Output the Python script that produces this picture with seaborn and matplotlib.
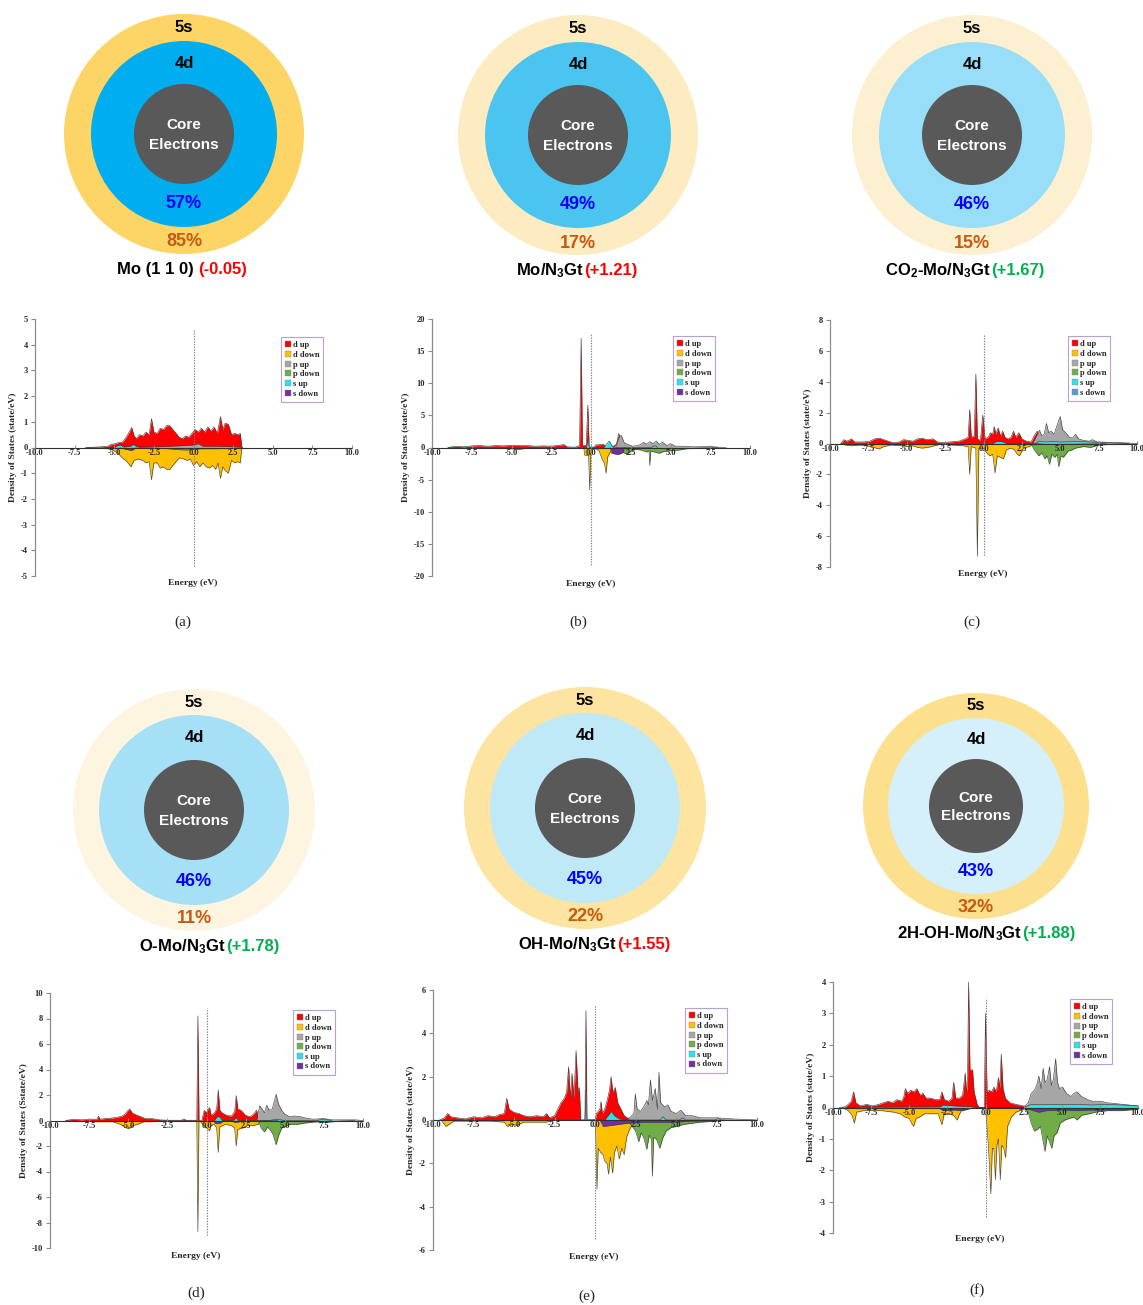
import numpy as np
import matplotlib
matplotlib.use("Agg")
import matplotlib.pyplot as plt
import seaborn as sns
from matplotlib.patches import Circle
from matplotlib.offsetbox import TextArea, HPacker, AnnotationBbox
from matplotlib.lines import Line2D

sns.set_theme(style="white")
plt.rcParams["font.family"] = ["Liberation Sans", "DejaVu Sans"]
plt.rcParams["mathtext.fontset"] = "custom"
plt.rcParams["mathtext.rm"] = "Liberation Sans:bold"
plt.rcParams["mathtext.bf"] = "Liberation Sans:bold"
plt.rcParams["mathtext.it"] = "Liberation Sans:bold"

# ---------------- circle diagram data ----------------
PANEL_TAGS = ["(a)", "(b)", "(c)", "(d)", "(e)", "(f)"]
NAMES = ["Mo (1 1 0)", "Mo/N$_3$Gt", "CO$_2$-Mo/N$_3$Gt", "O-Mo/N$_3$Gt",
         "OH-Mo/N$_3$Gt", "2H-OH-Mo/N$_3$Gt"]
CHARGES = ["(-0.05)", "(+1.21)", "(+1.67)", "(+1.78)", "(+1.55)", "(+1.88)"]
CHARGE_COLORS = ["#FF0000", "#FF0000", "#00B050", "#00B050", "#FF0000", "#00B050"]
PCT_4D = [57, 49, 46, 46, 45, 43]
PCT_5S = [85, 17, 15, 11, 22, 32]
COL_5S = ["#FDD466", "#FDEBC1", "#FDF0D0", "#FEF5E0", "#FDE4A0", "#FDE08E"]
COL_4D = ["#00AEEF", "#4BC5EF", "#99DEF8", "#A6E0F7", "#C0E9F8", "#D5F0FA"]

# ---------------- DOS data (energy eV, DOS state/eV) ----------------
A_D_UP = [(-6.8,0),(-6.0,0.02),(-5.4,0.05),(-5.2,0.12),(-4.9,0.15),(-4.7,0.2),(-4.5,0.2),(-4.3,0.35),(-4.1,0.55),(-3.9,0.78),(-3.75,0.45),(-3.6,0.35),(-3.4,0.5),(-3.2,0.45),(-3.0,0.6),(-2.8,0.5),(-2.65,1.12),(-2.5,0.6),(-2.3,0.55),(-2.1,0.75),(-1.9,0.7),(-1.7,0.85),(-1.5,0.85),(-1.3,0.7),(-1.1,0.55),(-0.9,0.4),(-0.7,0.35),(-0.5,0.45),(-0.3,0.4),(-0.1,0.55),(0.1,0.7),(0.3,0.6),(0.5,0.75),(0.7,0.6),(0.9,0.8),(1.1,0.65),(1.3,0.8),(1.5,0.55),(1.7,1.2),(1.85,0.7),(2.0,0.95),(2.2,0.9),(2.4,0.5),(2.6,0.55),(2.8,0.5),(2.95,0.55),(3.05,0.0)]
A_D_DOWN = [(-6.8,0),(-6.0,-0.02),(-5.4,-0.05),(-5.1,-0.1),(-4.8,-0.2),(-4.5,-0.4),(-4.2,-0.55),(-3.95,-0.75),(-3.75,-0.5),(-3.5,-0.45),(-3.2,-0.5),(-3.0,-0.6),(-2.8,-0.55),(-2.65,-1.25),(-2.5,-0.6),(-2.3,-0.6),(-2.1,-0.8),(-1.9,-0.75),(-1.7,-0.85),(-1.5,-0.85),(-1.3,-0.7),(-1.1,-0.55),(-0.9,-0.4),(-0.6,-0.45),(-0.4,-0.5),(-0.2,-0.45),(0.0,-0.7),(0.2,-0.55),(0.4,-0.75),(0.6,-0.6),(0.8,-0.75),(1.0,-0.8),(1.2,-0.7),(1.4,-0.85),(1.55,-0.6),(1.7,-1.2),(1.85,-0.75),(2.0,-0.9),(2.2,-1.0),(2.4,-0.5),(2.6,-0.6),(2.8,-0.55),(2.95,-0.6),(3.05,0.0)]
A_P_UP = [(-5.5,0),(-3.0,0.02),(-1.5,0.05),(-0.5,0.08),(0.0,0.1),(0.3,0.15),(0.6,0.05),(1.5,0.05),(3.0,0.02),(3.1,0)]
A_P_DOWN = [(-5.5,0),(-2.0,-0.03),(-1.0,-0.08),(-0.5,-0.1),(0.0,-0.08),(0.5,-0.05),(1.5,-0.05),(3.0,-0.02),(3.1,0)]
A_S_UP = [(-5.0,0),(-4.8,0.08),(-4.6,0.1),(-4.4,0.02),(-4.0,0.05),(-3.8,0.12),(-3.6,0.05),(-3.4,0)]
A_S_DOWN = [(-5.0,0),(-4.8,-0.05),(-4.6,-0.02),(-3.9,-0.12),(-3.6,0)]

B_D_UP = [(-9.0,0),(-8.5,0.2),(-8.0,0.1),(-7.5,0.25),(-7.0,0.3),(-6.5,0.2),(-6.0,0.3),(-5.5,0.25),(-5.0,0.35),(-4.5,0.3),(-4.0,0.3),(-3.5,0.2),(-3.0,0.25),(-2.5,0.2),(-2.0,0.35),(-1.7,0.45),(-1.5,0.1),(-1.0,0.05),(-0.72,0.3),(-0.62,17.0),(-0.54,0.4),(-0.3,0.3),(-0.2,6.6),(-0.12,0.2),(0.0,0.0),(0.2,0.1),(0.3,0.4),(0.6,0.45),(0.8,0.5),(0.9,0.1),(1.4,0.2),(1.6,0.5),(1.75,2.2),(1.85,1.0),(2.0,0.5),(2.3,0.2),(2.6,0.0)]
B_D_DOWN = [(-9.0,0),(-8.5,-0.1),(-7.0,-0.1),(-6.0,-0.15),(-5.0,-0.2),(-4.5,-0.3),(-4.0,-0.1),(-2.5,-0.1),(-1.5,-0.1),(-0.45,-0.1),(-0.4,-1.2),(-0.15,-1.2),(-0.08,-6.6),(0.0,-0.3),(0.3,-0.2),(0.5,-0.5),(0.7,-1.8),(0.85,-2.5),(0.95,-4.0),(1.05,-1.5),(1.3,-0.3),(1.6,0.0)]
B_P_UP = [(1.3,0),(1.6,0.4),(1.75,1.6),(1.9,1.9),(2.1,0.7),(2.3,0.5),(2.6,0.2),(3.0,0.3),(3.3,0.8),(3.5,0.5),(3.7,0.9),(3.9,0.6),(4.1,1.0),(4.3,0.5),(4.5,0.8),(4.8,0.3),(5.0,0.6),(5.3,0.2),(5.8,0.2),(6.5,0.1),(7.5,0.15),(8.0,0.05),(8.5,0)]
B_P_DOWN = [(1.6,0),(1.9,-0.5),(2.1,-0.9),(2.3,-1.0),(2.5,-0.6),(2.8,-0.3),(3.2,-0.4),(3.5,-0.7),(3.65,-0.5),(3.7,-2.8),(3.75,-0.6),(4.0,-0.7),(4.3,-0.9),(4.6,-0.6),(5.0,-0.5),(5.5,-0.4),(6.0,-0.2),(6.5,-0.1),(7.5,-0.05),(8.0,0)]
B_S_UP = [(-0.3,0),(-0.2,1.2),(-0.1,0),(0.8,0),(1.0,0.6),(1.15,1.0),(1.3,0.4),(1.4,0),(3.8,0),(4.0,0.3),(4.2,0)]
B_S_DOWN = [(1.2,0),(1.3,-0.9),(1.7,-1.1),(2.0,-0.8),(2.1,0)]

C_D_UP = [(-9.3,0),(-9.1,0.25),(-8.9,0.15),(-8.6,0.3),(-8.4,0.1),(-7.8,0.1),(-7.4,0.15),(-7.1,0.3),(-6.8,0.35),(-6.5,0.25),(-6.2,0.15),(-5.9,0.05),(-5.5,0.1),(-5.2,0.25),(-4.9,0.2),(-4.6,0.15),(-4.3,0.3),(-4.0,0.35),(-3.7,0.25),(-3.3,0.3),(-3.0,0.1),(-2.7,0.05),(-2.2,0.1),(-1.6,0.15),(-1.2,0.3),(-1.0,0.4),(-0.9,2.2),(-0.8,0.4),(-0.6,0.5),(-0.5,4.5),(-0.4,0.3),(-0.2,0.2),(-0.05,1.85),(0.1,0.3),(0.3,0.4),(0.45,0.7),(0.6,0.6),(0.7,1.1),(0.8,0.6),(0.95,1.0),(1.1,0.5),(1.25,0.8),(1.4,0.4),(1.6,0.3),(1.8,0.4),(1.95,0.8),(2.1,0.4),(2.3,0.7),(2.5,0.3),(2.8,0.15),(3.1,0.1),(3.3,0.5),(3.5,0.8),(3.7,0.3),(4.0,0.0)]
C_D_DOWN = [(-9.3,0),(-9.0,-0.1),(-8.6,-0.15),(-8.0,-0.1),(-7.3,-0.2),(-7.0,-0.3),(-6.8,-0.35),(-6.5,-0.2),(-6.0,-0.1),(-5.3,-0.15),(-5.0,-0.2),(-4.6,-0.15),(-4.3,-0.25),(-4.0,-0.3),(-3.6,-0.25),(-3.2,-0.15),(-2.8,-0.05),(-2.0,-0.1),(-1.3,-0.15),(-1.0,-0.2),(-0.9,-2.0),(-0.8,-0.2),(-0.5,-0.3),(-0.4,-7.3),(-0.3,-0.3),(0.0,-0.3),(0.2,-0.6),(0.4,-0.8),(0.6,-0.7),(0.75,-1.9),(0.9,-0.8),(1.1,-0.9),(1.3,-1.0),(1.5,-0.4),(1.8,-0.3),(2.0,-0.4),(2.2,-0.7),(2.35,-0.8),(2.6,-0.3),(3.0,-0.2),(3.3,0.0)]
C_P_UP = [(3.2,0),(3.5,0.6),(3.65,0.85),(3.8,0.5),(3.95,0.6),(4.1,1.3),(4.25,0.7),(4.4,0.8),(4.6,0.6),(4.8,1.2),(5.0,1.75),(5.15,0.9),(5.35,0.7),(5.6,0.4),(5.8,0.35),(6.0,0.6),(6.2,0.3),(6.5,0.2),(6.9,0.15),(7.1,0.25),(7.4,0.1),(8.0,0.08),(9.0,0.05),(10.0,0)]
C_P_DOWN = [(3.1,0),(3.3,-0.4),(3.6,-0.8),(3.8,-0.6),(4.0,-1.0),(4.15,-0.8),(4.3,-1.35),(4.45,-0.7),(4.65,-0.9),(4.8,-0.7),(4.9,-1.5),(5.05,-0.8),(5.2,-0.9),(5.5,-0.5),(5.8,-0.4),(6.0,-0.3),(6.5,-0.2),(7.0,-0.25),(7.5,-0.1),(8.5,-0.05),(9.5,0)]
C_S_UP = [(0.6,0),(0.8,0.12),(1.0,0.15),(1.3,0.1),(1.5,0),(3.4,0),(3.6,0.15),(4.0,0.1),(4.5,0.12),(5.0,0.1),(6.0,0.12),(7.0,0.1),(8.0,0.05),(9.5,0)]
C_S_DOWN = [(3.4,0),(4.0,-0.05),(5.0,-0.05),(7.0,-0.03),(8.0,0)]

D_D_UP = [(-9.0,0),(-8.5,0.1),(-8.0,0.05),(-7.5,0.1),(-7.0,0.1),(-6.9,0.35),(-6.8,0.1),(-6.5,0.15),(-6.0,0.2),(-5.7,0.25),(-5.4,0.35),(-5.2,0.5),(-5.05,0.75),(-4.9,0.9),(-4.75,0.6),(-4.5,0.45),(-4.2,0.3),(-3.9,0.15),(-3.5,0.15),(-3.2,0.1),(-3.0,0.05),(-2.5,0.02),(-1.6,0.02),(-1.45,0.12),(-1.3,0.02),(-0.62,0.02),(-0.55,8.2),(-0.48,0.02),(-0.3,0.0),(-0.15,0.8),(0.0,0.6),(0.1,0.9),(0.2,1.0),(0.3,0.4),(0.5,0.6),(0.65,0.9),(0.75,2.4),(0.85,0.8),(1.0,0.6),(1.3,0.4),(1.6,0.35),(1.8,0.7),(1.9,1.95),(2.0,0.9),(2.2,0.8),(2.5,0.4),(2.8,0.3),(3.0,0.5),(3.2,0.8),(3.35,0.0)]
D_D_DOWN = [(-9.0,0),(-8.5,-0.05),(-7.0,-0.1),(-6.0,-0.1),(-5.5,-0.3),(-5.2,-0.55),(-4.95,-0.65),(-4.7,-0.4),(-4.4,-0.3),(-4.0,-0.1),(-3.5,-0.1),(-3.0,0.0),(-0.62,0.0),(-0.55,-8.7),(-0.48,0.0),(-0.15,-0.4),(0.0,-0.6),(0.2,-0.8),(0.3,-0.4),(0.5,-0.3),(0.65,-0.6),(0.75,-2.5),(0.85,-0.5),(1.2,-0.3),(1.6,-0.4),(1.8,-0.6),(1.9,-2.0),(2.0,-0.7),(2.3,-0.6),(2.6,-0.4),(3.0,-0.4),(3.3,-0.3),(3.45,0.0)]
D_P_UP = [(3.2,0),(3.4,1.15),(3.55,0.9),(3.7,0.6),(3.85,1.2),(4.0,0.8),(4.2,0.9),(4.35,1.6),(4.45,2.05),(4.6,1.3),(4.8,0.8),(5.0,0.5),(5.3,0.3),(5.6,0.35),(6.0,0.3),(6.3,0.2),(6.8,0.1),(7.5,0.15),(8.0,0.05),(9.5,0.05),(10.0,0)]
D_P_DOWN = [(3.3,0),(3.5,-0.6),(3.7,-0.9),(3.9,-0.5),(4.1,-0.8),(4.25,-1.1),(4.45,-1.9),(4.6,-1.2),(4.8,-0.6),(5.0,-0.5),(5.3,-0.3),(5.8,-0.3),(6.3,-0.2),(7.0,-0.1),(7.6,-0.15),(8.5,-0.05),(9.5,0)]
D_S_UP = [(0.5,0),(0.6,0.2),(0.75,0.35),(0.9,0.2),(1.0,0),(1.7,0),(1.9,0.25),(2.0,0),(4.0,0),(4.5,0.1),(5.0,0),(7.0,0),(7.5,0.1),(8.0,0)]
D_S_DOWN = [(0.4,0),(0.6,-0.25),(0.9,-0.2),(1.1,0),(1.6,0),(1.8,-0.15),(2.1,-0.1),(2.3,0),(4.5,0),(4.7,-0.1),(5.0,0)]

E_D_UP = [(-9.6,0),(-9.3,0.1),(-9.1,0.3),(-8.9,0.15),(-8.5,0.1),(-8.0,0.05),(-7.5,0.15),(-7.0,0.1),(-6.6,0.2),(-6.2,0.15),(-5.9,0.25),(-5.6,0.3),(-5.45,1.0),(-5.3,0.5),(-5.0,0.35),(-4.7,0.3),(-4.4,0.2),(-4.0,0.15),(-3.6,0.2),(-3.2,0.15),(-3.0,0.3),(-2.8,0.1),(-2.5,0.2),(-2.3,0.5),(-2.1,0.8),(-1.9,1.0),(-1.75,1.3),(-1.63,2.45),(-1.52,1.0),(-1.42,2.15),(-1.3,1.0),(-1.17,3.2),(-1.05,1.3),(-0.97,1.5),(-0.88,0.0),(-0.62,0.0),(-0.56,5.05),(-0.5,0.0),(0.0,0.0),(0.1,0.3),(0.3,0.5),(0.37,0.85),(0.45,0.3),(0.6,0.5),(0.75,0.9),(0.9,1.4),(0.99,2.0),(1.1,1.3),(1.25,1.5),(1.4,0.8),(1.6,0.5),(1.8,0.2),(2.0,0.1),(2.3,0.0)]
E_D_DOWN = [(-9.5,0),(-9.2,-0.3),(-9.0,-0.2),(-8.7,-0.05),(-7.5,-0.05),(-6.5,-0.05),(-5.6,-0.1),(-5.4,-0.3),(-5.1,-0.2),(-4.8,-0.25),(-4.4,-0.1),(-4.0,-0.1),(-3.0,-0.1),(-2.5,0.0),(0.0,0.0),(0.05,-0.8),(0.12,-3.2),(0.2,-1.3),(0.35,-1.5),(0.5,-1.6),(0.6,-1.9),(0.74,-2.0),(0.84,-2.5),(0.95,-1.7),(1.09,-2.45),(1.2,-1.5),(1.35,-1.2),(1.5,-1.8),(1.65,-1.3),(1.8,-1.6),(1.95,-0.8),(2.1,-0.5),(2.3,-0.2),(2.5,0.0)]
E_P_UP = [(2.0,0),(2.2,0.15),(2.4,0.3),(2.49,1.2),(2.6,0.5),(2.8,0.4),(3.0,0.6),(3.2,0.9),(3.3,0.7),(3.42,1.85),(3.55,0.9),(3.72,1.45),(3.85,0.5),(3.95,2.2),(4.05,0.8),(4.3,0.6),(4.5,0.7),(4.7,0.4),(5.0,0.3),(5.3,0.45),(5.6,0.2),(6.0,0.2),(6.5,0.1),(7.5,0.1),(8.5,0.05),(10.0,0)]
E_P_DOWN = [(1.9,0),(2.2,-0.2),(2.5,-0.5),(2.7,-1.0),(2.85,-0.6),(3.0,-0.8),(3.2,-1.35),(3.35,-0.7),(3.48,-0.9),(3.54,-2.6),(3.62,-0.8),(3.8,-0.9),(4.0,-1.3),(4.2,-0.8),(4.4,-0.5),(4.7,-0.35),(5.0,-0.3),(5.5,-0.2),(6.0,-0.15),(6.5,-0.1),(7.5,-0.05),(8.5,0)]
E_S_UP = [(-0.62,0),(-0.56,1.4),(-0.5,0),(0.6,0),(0.8,0.2),(1.0,0.4),(1.2,0.2),(1.5,0.05),(2.0,0),(4.0,0),(4.2,0.15),(4.4,0),(5.2,0),(5.4,0.1),(5.6,0),(7.4,0),(7.6,0.08),(7.8,0)]
E_S_DOWN = [(0.3,0),(0.5,-0.3),(1.0,-0.25),(1.5,-0.2),(2.0,-0.15),(3.0,-0.1),(4.0,-0.1),(5.0,-0.1),(6.0,-0.05),(7.0,-0.05),(8.0,0)]

F_D_UP = [(-9.6,0),(-9.2,0.02),(-9.0,0.1),(-8.8,0.2),(-8.65,0.5),(-8.5,0.15),(-8.2,0.05),(-7.8,0.1),(-7.4,0.05),(-7.0,0.1),(-6.7,0.15),(-6.4,0.2),(-6.1,0.15),(-5.8,0.25),(-5.5,0.2),(-5.35,0.35),(-5.26,0.6),(-5.1,0.45),(-4.9,0.55),(-4.7,0.5),(-4.5,0.6),(-4.3,0.4),(-4.1,0.45),(-3.9,0.3),(-3.6,0.3),(-3.3,0.25),(-3.0,0.25),(-2.86,0.5),(-2.7,0.25),(-2.4,0.2),(-2.2,0.3),(-2.09,0.8),(-1.95,0.3),(-1.7,0.3),(-1.5,0.4),(-1.33,1.1),(-1.25,0.5),(-1.18,0.7),(-1.11,4.0),(-1.02,1.2),(-0.85,1.2),(-0.75,0.5),(-0.55,0.1),(-0.4,0.0),(-0.08,0.0),(0.0,3.0),(0.1,0.5),(0.25,0.55),(0.4,0.5),(0.55,0.65),(0.7,0.5),(0.85,0.95),(0.95,0.6),(1.03,1.7),(1.15,0.6),(1.3,0.3),(1.6,0.15),(2.0,0.1),(2.5,0.05),(2.7,0.0)]
F_D_DOWN = [(-9.4,0),(-9.0,-0.1),(-8.75,-0.25),(-8.6,-0.5),(-8.45,-0.15),(-8.0,-0.1),(-7.5,-0.1),(-6.8,-0.1),(-6.0,-0.15),(-5.6,-0.2),(-5.3,-0.3),(-5.0,-0.35),(-4.85,-0.5),(-4.71,-0.6),(-4.55,-0.35),(-4.3,-0.3),(-4.0,-0.2),(-3.6,-0.2),(-3.1,-0.2),(-2.86,-0.55),(-2.7,-0.2),(-2.4,-0.2),(-2.1,-0.25),(-1.85,-0.4),(-1.7,-0.2),(-1.5,-0.05),(-0.5,0.0),(0.0,0.0),(0.1,-0.6),(0.2,-1.3),(0.35,-2.75),(0.45,-1.3),(0.55,-1.3),(0.65,-2.3),(0.75,-1.2),(0.85,-1.0),(0.97,-2.3),(1.07,-1.2),(1.2,-1.3),(1.32,-1.6),(1.45,-0.6),(1.7,-0.3),(2.0,-0.15),(2.5,-0.05),(2.8,0.0)]
F_P_UP = [(2.5,0),(2.8,0.15),(3.0,0.45),(3.2,0.55),(3.35,0.7),(3.5,1.0),(3.65,0.6),(3.78,1.25),(3.9,0.8),(4.05,0.9),(4.2,1.3),(4.32,0.7),(4.45,0.9),(4.6,1.55),(4.72,0.8),(4.85,0.6),(5.05,0.65),(5.3,0.45),(5.6,0.35),(5.8,0.45),(6.0,0.5),(6.3,0.35),(6.7,0.25),(7.0,0.2),(7.5,0.2),(8.0,0.15),(9.0,0.1),(10.0,0.05)]
F_P_DOWN = [(2.5,0),(2.8,-0.15),(3.0,-0.5),(3.2,-0.75),(3.4,-0.7),(3.6,-0.6),(3.75,-1.0),(3.9,-1.4),(4.05,-0.9),(4.2,-1.1),(4.35,-1.3),(4.5,-0.9),(4.7,-0.8),(4.9,-0.5),(5.2,-0.4),(5.5,-0.35),(5.8,-0.3),(6.0,-0.4),(6.3,-0.25),(6.8,-0.2),(7.2,-0.15),(8.0,-0.1),(9.0,-0.1),(10.0,-0.05)]
F_S_UP = [(-9.0,0),(-8.0,0.02),(-3.0,0.02),(-2.8,0.08),(-2.0,0.05),(-1.0,0.03),(-0.5,0.0),(2.5,0.0),(3.0,0.1),(4.0,0.1),(5.0,0.1),(6.0,0.1),(7.0,0.08),(8.0,0.1),(9.0,0.08),(10.0,0.05)]
F_S_DOWN = [(-9.0,0),(-3.0,-0.03),(-2.8,-0.1),(-2.0,-0.08),(-1.5,-0.1),(-1.0,-0.03),(-0.5,0.0),(2.5,0.0),(3.0,-0.08),(3.5,-0.15),(4.0,-0.1),(5.0,-0.08),(6.0,-0.1),(7.0,-0.08),(8.0,-0.08),(9.0,-0.08),(10.0,-0.05)]

ORBITALS = ["d up", "d down", "p up", "p down", "s up", "s down"]
DOS = [
    [A_D_UP, A_D_DOWN, A_P_UP, A_P_DOWN, A_S_UP, A_S_DOWN],
    [B_D_UP, B_D_DOWN, B_P_UP, B_P_DOWN, B_S_UP, B_S_DOWN],
    [C_D_UP, C_D_DOWN, C_P_UP, C_P_DOWN, C_S_UP, C_S_DOWN],
    [D_D_UP, D_D_DOWN, D_P_UP, D_P_DOWN, D_S_UP, D_S_DOWN],
    [E_D_UP, E_D_DOWN, E_P_UP, E_P_DOWN, E_S_UP, E_S_DOWN],
    [F_D_UP, F_D_DOWN, F_P_UP, F_P_DOWN, F_S_UP, F_S_DOWN],
]
YLIMS = [5, 20, 8, 10, 6, 4]
YSTEPS = [1, 5, 2, 2, 2, 1]
YLABELS = ["Density of States (state/eV)"] * 3 + ["Density of States (Sstate/eV)",
           "Density of States (state/eV)", "Density of States (state/eV)"]
XTICKS = [-10, -7.5, -5, -2.5, 0, 2.5, 5, 7.5, 10]

ORB_COLORS = ["#FF0000", "#FFC000", "#A6A6A6", "#70AD47", "#2FE0EA", "#7030A0"]

# ---------------- layout (pixels) ----------------
W, H = 1143, 1305
CIRC = [  # cx, cy, r_out, r_4d, r_core
    (184, 134, 120, 93, 50), (578, 135, 120, 93, 50), (972, 135, 120, 93, 50),
    (194, 810, 121, 95, 50), (585, 808, 121, 95, 50), (976, 806, 113, 88, 47)]
TITLE_X = [182, 577, 965, 209, 594, 986]
DOS_RECT = [  # x0, y0(top), x1, y1(bottom)
    (35, 319, 352, 576), (432, 319, 750, 576), (830, 320, 1137, 567),
    (50, 993, 363, 1248), (433, 990, 757, 1250), (833, 982, 1138, 1233)]
LEG_POS = [(281, 337), (673, 336), (1068, 336), (293, 1010), (685, 1008), (1070, 999)]
DASH = [(-4.6, 4.6), (-18.3, 17.6), (-7.2, 7.1), (-9.0, 8.8), (-5.5, 5.3), (-3.5, 3.5)]
ENERGY_POS = [(193, 583), (591, 584), (983, 574), (196, 1256), (594, 1257), (980, 1239)]
TAG_POS = [(183, 622), (578, 622), (972, 622), (196, 1293), (587, 1296), (977, 1290)]

fig = plt.figure(figsize=(W / 100, H / 100), dpi=100)
ov = fig.add_axes([0, 0, 1, 1])
ov.set_xlim(0, W)
ov.set_ylim(H, 0)
ov.axis("off")

SERIF = "Liberation Serif"

for i in range(6):
    cx, cy, ro, rd, rc = CIRC[i]
    ov.add_patch(Circle((cx, cy), ro, fc=COL_5S[i], ec="none"))
    ov.add_patch(Circle((cx, cy), rd, fc=COL_4D[i], ec="none"))
    ov.add_patch(Circle((cx, cy), rc, fc="#595959", ec="none"))
    ov.text(cx, cy - 0.89 * ro, "5s", ha="center", va="center", fontsize=12, fontweight="bold", color="black")
    ov.text(cx, cy - 0.76 * rd, "4d", ha="center", va="center", fontsize=12, fontweight="bold", color="black")
    ov.text(cx, cy - 0.18 * rc, "Core", ha="center", va="center", fontsize=11, fontweight="bold", color="white")
    ov.text(cx, cy + 0.22 * rc, "Electrons", ha="center", va="center", fontsize=11, fontweight="bold", color="white")
    ov.text(cx, cy + 0.75 * rd, f"{PCT_4D[i]}%", ha="center", va="center", fontsize=13, fontweight="bold", color="#0000FF")
    ov.text(cx, cy + 0.9 * ro, f"{PCT_5S[i]}%", ha="center", va="center", fontsize=13, fontweight="bold", color="#C55A11")
    t1 = TextArea(NAMES[i] + " ", textprops=dict(fontsize=12, fontweight="bold", color="black"))
    t2 = TextArea(CHARGES[i], textprops=dict(fontsize=12, fontweight="bold", color=CHARGE_COLORS[i]))
    box = HPacker(children=[t1, t2], align="baseline", pad=0, sep=0)
    ab = AnnotationBbox(box, (TITLE_X[i], cy + 1.13 * ro), xycoords="data", frameon=False,
                        box_alignment=(0.5, 0.5), pad=0)
    ov.add_artist(ab)

    # ---------------- DOS panel ----------------
    x0, y0, x1, y1 = DOS_RECT[i]
    ax = fig.add_axes([x0 / W, 1 - y1 / H, (x1 - x0) / W, (y1 - y0) / H])
    ax.set_facecolor("none")
    cols = list(ORB_COLORS)
    if i == 2:
        cols[5] = "#5B9BD5"
    for k, series in enumerate(DOS[i]):
        arr = np.array(series, dtype=float)
        e, v = arr[:, 0], arr[:, 1]
        ax.fill_between(e, v, 0, color=cols[k], lw=0, zorder=2 + k * 0.1)
        sns.lineplot(x=e, y=v, ax=ax, color="#404040", lw=0.45, sort=False,
                     estimator=None, zorder=2.05 + k * 0.1)
    yl = YLIMS[i]
    ax.set_xlim(-10, 10)
    ax.set_ylim(-yl, yl)
    ax.plot([0, 0], list(DASH[i]), ls=(0, (1.2, 1.2)), color="#808080", lw=0.8, zorder=5)
    for s in ["top", "right"]:
        ax.spines[s].set_visible(False)
    ax.spines["left"].set_color("#8C8C8C")
    ax.spines["left"].set_linewidth(0.9)
    ax.spines["bottom"].set_position(("data", 0))
    ax.spines["bottom"].set_color("#303030")
    ax.spines["bottom"].set_linewidth(0.8)
    ax.spines["bottom"].set_zorder(6)
    yt = np.arange(-yl, yl + 0.01, YSTEPS[i])
    ax.set_yticks(yt)
    ax.set_yticklabels([f"{int(t)}" for t in yt])
    ax.set_xticks(XTICKS)
    ax.set_xticklabels([f"{t:.1f}" for t in XTICKS])
    ax.tick_params(axis="y", direction="out", length=3, width=0.8, color="#8C8C8C", pad=2,
                   left=True, labelsize=6)
    ax.tick_params(axis="x", direction="in", length=2.5, width=0.8, color="#8C8C8C", pad=1,
                   bottom=True, labelsize=6)
    for lab in ax.get_xticklabels() + ax.get_yticklabels():
        lab.set_fontfamily(SERIF)
        lab.set_fontweight("bold")
    ax.xaxis.set_zorder(7)
    ax.set_xlabel("")
    ax.set_ylabel(YLABELS[i], fontsize=6.8, fontweight="bold", fontfamily=SERIF, labelpad=3)
    ax.grid(False)

    handles = [Line2D([], [], marker="s", ls="", markersize=4, markerfacecolor=c,
                      markeredgecolor="#888888", markeredgewidth=0.3) for c in cols]
    lx, ly = LEG_POS[i]
    leg = ax.legend(handles, ORBITALS, loc="upper left", bbox_to_anchor=(lx / W, 1 - ly / H),
                    bbox_transform=fig.transFigure, frameon=True, fancybox=False,
                    edgecolor="#B9A0D0", framealpha=1, borderaxespad=0,
                    prop=dict(family=SERIF, weight="bold", size=6),
                    handlelength=0.6, handletextpad=0.3, labelspacing=0.2, borderpad=0.5)
    leg.get_frame().set_linewidth(0.8)
    leg.set_zorder(8)

    ex, ey = ENERGY_POS[i]
    ov.text(ex, ey, "Energy (eV)", ha="center", va="center", fontsize=6.8,
            fontweight="bold", fontfamily=SERIF)
    tx, ty = TAG_POS[i]
    ov.text(tx, ty, PANEL_TAGS[i], ha="center", va="center", fontsize=11, fontfamily=SERIF)

fig.savefig("out.png", dpi=100)
